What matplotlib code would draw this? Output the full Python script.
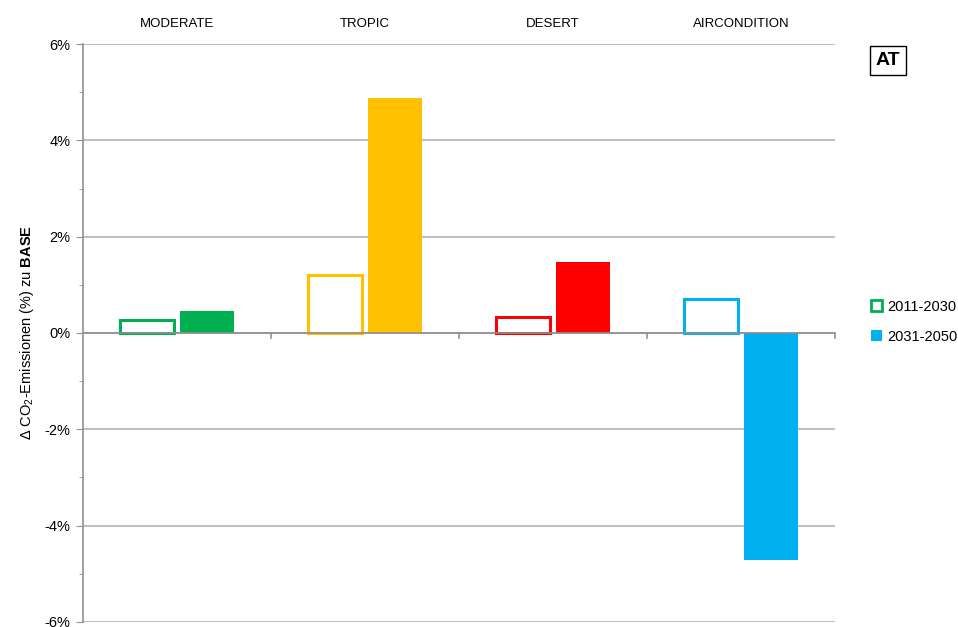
import numpy as np
import matplotlib.pyplot as plt
from matplotlib.ticker import MultipleLocator, FuncFormatter

# data (% change of CO2 emissions vs BASE)
categories = ['MODERATE', 'TROPIC', 'DESERT', 'AIRCONDITION']
period_1 = [0.27, 1.20, 0.33, 0.70]     # 2011-2030 (outlined bars)
period_2 = [0.46, 4.88, 1.47, -4.71]    # 2031-2050 (filled bars)
colors = ['#00B050', '#FFC000', '#FF0000', '#00B0F0']
legend_labels = ['2011-2030', '2031-2050']

plt.rcParams['font.family'] = ['Liberation Sans', 'DejaVu Sans']
plt.rcParams['mathtext.fontset'] = 'custom'
plt.rcParams['mathtext.rm'] = 'Liberation Sans'
plt.rcParams['mathtext.bf'] = 'Liberation Sans:bold'

fig = plt.figure(figsize=(9.58, 6.27), dpi=100)
ax = fig.add_axes([0.0866, 0.008, 0.7850, 0.9218])

x = np.arange(len(categories))
w = 0.285
off = 0.16
for i in range(len(categories)):
    ax.bar(x[i] - off, period_1[i], width=w, facecolor='white',
           edgecolor=colors[i], linewidth=2.2, zorder=3)
    ax.bar(x[i] + off, period_2[i], width=w, color=colors[i], zorder=3)

ax.set_xlim(-0.5, len(categories) - 0.5)
ax.set_ylim(-6, 6)
ax.yaxis.set_major_locator(MultipleLocator(2))
ax.yaxis.set_minor_locator(MultipleLocator(1))
ax.yaxis.set_major_formatter(FuncFormatter(lambda v, p: f'{v:.0f}%'))
ax.grid(axis='y', which='major', color='#B4B4B4', linewidth=1.2, zorder=0)
ax.tick_params(axis='y', which='major', length=5, color='#909090', labelsize=10.5, pad=4)
ax.tick_params(axis='y', which='minor', length=3, color='#909090')

# category labels on top, tick marks at category boundaries on the zero line
ax.set_xticks([])
for i, c in enumerate(categories):
    ax.text(x[i], 1.035, c, transform=ax.get_xaxis_transform(),
            ha='center', va='center', fontsize=9.5)
ax.axhline(0, color='#909090', linewidth=1.2, zorder=4)
for b in x + 0.5:
    ax.plot([b, b], [0, -0.1], color='#909090', linewidth=1.2, zorder=4, clip_on=False)

for s in ['top', 'right', 'bottom']:
    ax.spines[s].set_visible(False)
ax.spines['left'].set_color('#909090')
ax.spines['left'].set_linewidth(1.2)

ax.set_ylabel(r'$\Delta$ CO$_2$-Emissionen (%) zu $\bf{BASE}$', fontsize=10.5, labelpad=6)

# legend
h1 = plt.Rectangle((0, 0), 1, 1, facecolor='white', edgecolor=colors[0], linewidth=2)
h2 = plt.Rectangle((0, 0), 1, 1, facecolor=colors[3])
fig.legend([h1, h2], legend_labels, loc='center left', bbox_to_anchor=(0.906, 0.487),
           frameon=False, fontsize=10.5, handlelength=0.75, handleheight=0.75,
           handletextpad=0.35, labelspacing=1.1, borderpad=0.2, borderaxespad=0)

fig.text(0.927, 0.904, 'AT', ha='center', va='center', fontsize=14, fontweight='bold',
         bbox=dict(boxstyle='square,pad=0.3', facecolor='white', edgecolor='black', linewidth=1))

fig.savefig('out.png', dpi=100)
